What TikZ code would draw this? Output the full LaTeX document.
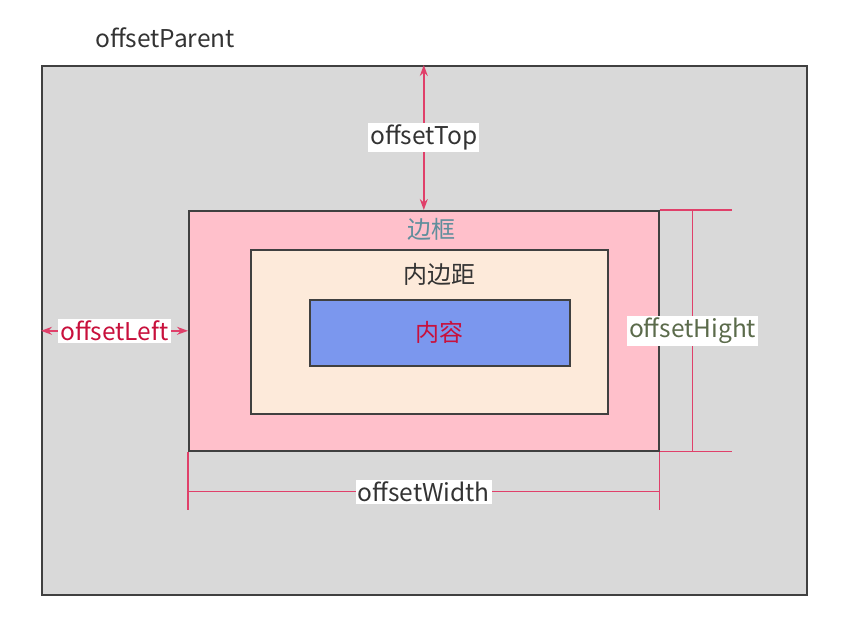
\documentclass[tikz,border=0pt]{standalone}
\usepackage{fontspec}
\setmainfont{Noto Sans CJK SC}
\usetikzlibrary{arrows.meta, calc}

\definecolor{parentgray}{HTML}{D9D9D9}
\definecolor{borderpink}{HTML}{FFC0CB}
\definecolor{paddingpeach}{HTML}{FDEADA}
\definecolor{contentblue}{HTML}{7B97EE}
\definecolor{dimred}{HTML}{E0406A}
\definecolor{labelteal}{HTML}{5F8E9C}
\definecolor{labelred}{HTML}{C8103C}
\definecolor{labelgreen}{HTML}{5B6B4B}
\definecolor{labeldark}{HTML}{333333}

\begin{document}
\begin{tikzpicture}[x=1pt, y=-1pt,
  box/.style = {draw=black!75, line width=1.6pt, anchor=north west, inner sep=0pt},
  dim/.style = {dimred, line width=1.4pt},
  dimarrow/.style = {dim, {Stealth[length=11pt, width=8pt]}-{Stealth[length=11pt, width=8pt]}},
  dimlabel/.style = {fill=white, inner sep=2pt, font=\fontsize{24.5}{24.5}\selectfont},
  boxlabel/.style = {font=\fontsize{24}{24}\selectfont}]

\useasboundingbox (0,0) rectangle (857,632);

% boxes
\node[box, fill=parentgray, minimum width=765pt, minimum height=529pt] (parent) at (41,65) {};
\node[box, fill=borderpink, minimum width=470pt, minimum height=240pt] (border) at (188,210) {};
\node[box, fill=paddingpeach, minimum width=357pt, minimum height=164pt] (padding) at (250,249) {};
\node[box, fill=contentblue, minimum width=260pt, minimum height=66pt] (content) at (309,299) {};

\node[labeldark, font=\fontsize{24.5}{24.5}\selectfont] (title) at (165,38) {offsetParent};

\node[boxlabel, labelteal] (borderlabel) at ($(border.north)!0.5!(padding.north) + (5,0)$) {边框};
\node[boxlabel, labeldark] (paddinglabel) at ([xshift=10pt, yshift=-25pt]padding.north) {内边距};
\node[boxlabel, labelred] (contentlabel) at (content.center) {内容};

% offsetTop
\draw[dimarrow] (border.north |- parent.north) -- (border.north)
  node[midway, dimlabel, text=labeldark] {offsetTop};

% offsetLeft
\draw[dimarrow] (parent.west |- border.west) -- (border.west)
  node[midway, dimlabel, text=labelred] {offsetLeft};

% offsetHight
\coordinate (hta) at ([xshift=72pt]border.north east);
\coordinate (htb) at ([xshift=72pt]border.south east);
\draw[dim] (border.north east) -- (hta);
\draw[dim] (border.south east) -- (htb);
\draw[dim] ([xshift=33pt]border.north east) -- ([xshift=33pt]border.south east)
  node[midway, dimlabel, text=labelgreen] {offsetHight};

% offsetWidth
\coordinate (wda) at ([yshift=-58pt]border.south west);
\coordinate (wdb) at ([yshift=-58pt]border.south east);
\draw[dim] (border.south west) -- (wda);
\draw[dim] (border.south east) -- (wdb);
\draw[dim] ([yshift=-40pt]border.south west) -- ([yshift=-40pt]border.south east)
  node[midway, dimlabel, text=labeldark] {offsetWidth};

\end{tikzpicture}
\end{document}
